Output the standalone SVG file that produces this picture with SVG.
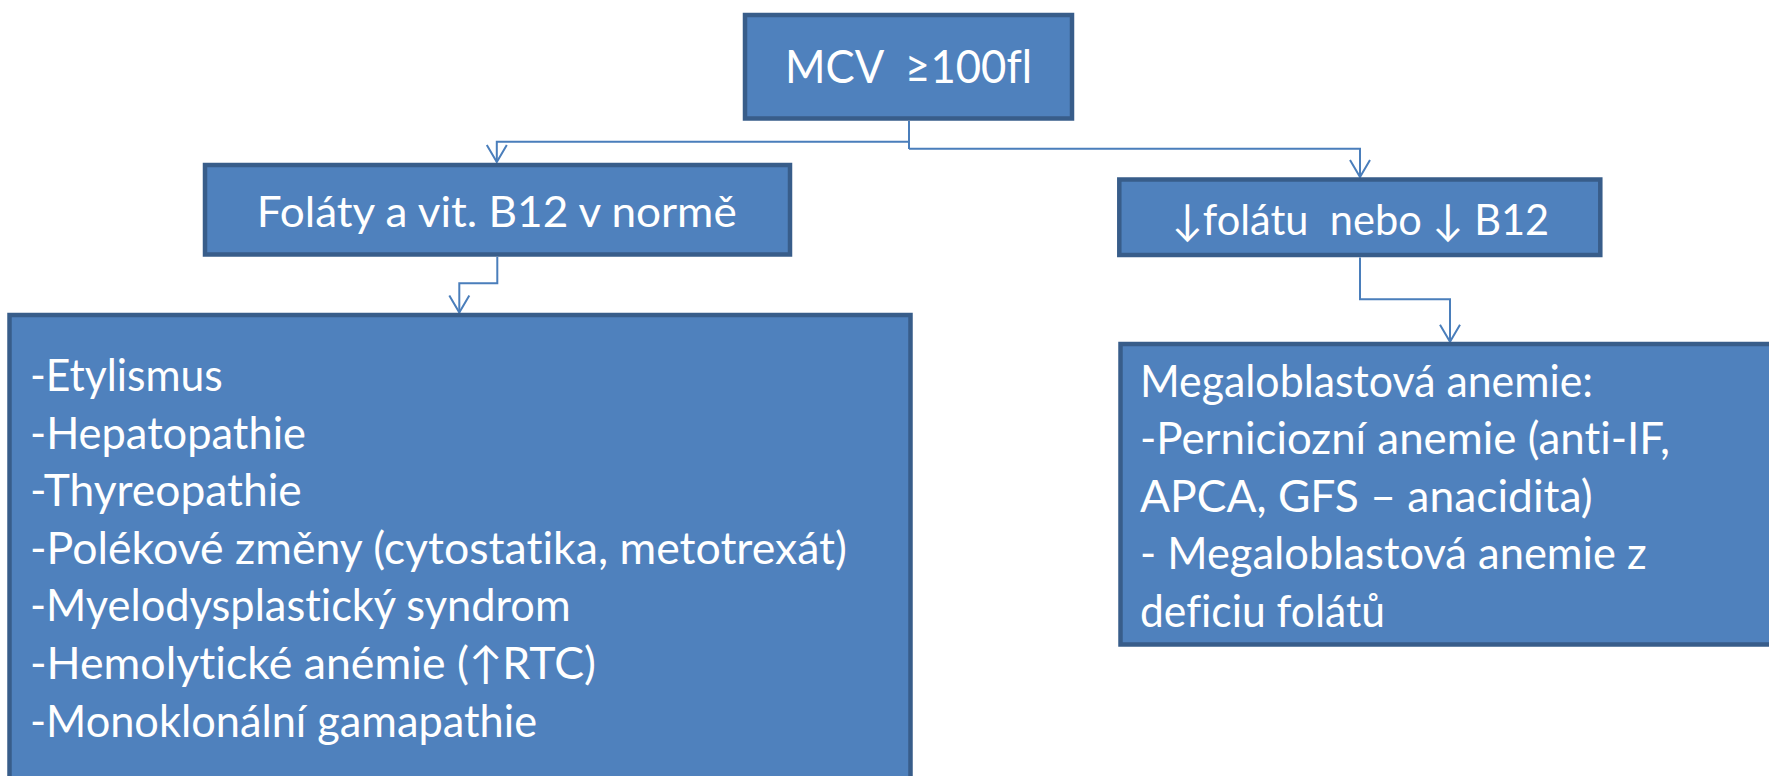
<svg xmlns="http://www.w3.org/2000/svg" width="1769" height="776" viewBox="0 0 1769 776">
  <style>
    .box { fill: #4F81BD; stroke: #385D8A; stroke-width: 4.5; }
    .lbl { fill: #FFFFFF; font-family: "Lato", "Open Sans", "DejaVu Sans", sans-serif; font-variant-ligatures: none; font-feature-settings: "liga" 0, "dlig" 0; }
    .edge { fill: none; stroke: #4A7EBB; stroke-width: 2; }
  </style>
  <defs>
    <marker id="vee" markerUnits="userSpaceOnUse" markerWidth="24" markerHeight="24" refX="18" refY="12" orient="auto" overflow="visible">
      <path d="M1,2 L18,12 L1,22" fill="none" stroke="#4A7EBB" stroke-width="2"/>
    </marker>
  </defs>

  <rect width="1769" height="776" fill="#FFFFFF"/>

  <!-- connectors -->
  <g id="connectors">
    <polyline class="edge" points="909,121 909,149"/>
    <polyline class="edge" points="909,141.7 496.8,141.7 496.8,162" marker-end="url(#vee)"/>
    <polyline class="edge" points="909,148.7 1360,148.7 1360,177" marker-end="url(#vee)"/>
    <polyline class="edge" points="497.3,257 497.3,283.3 459.3,283.3 459.3,312.5" marker-end="url(#vee)"/>
    <polyline class="edge" points="1360,257.5 1360,299.3 1450,299.3 1450,341.8" marker-end="url(#vee)"/>
  </g>

  <!-- top node -->
  <g id="mcv">
    <rect class="box" x="745" y="15" width="327" height="103.5"/>
    <text class="lbl" x="785" y="83" font-size="47" textLength="247" lengthAdjust="spacingAndGlyphs">MCV&#160; ≥100fl</text>
  </g>

  <!-- left branch -->
  <g id="normal">
    <rect class="box" x="205" y="165" width="585" height="89.5"/>
    <text class="lbl" x="256.7" y="227" font-size="43" textLength="480" lengthAdjust="spacingAndGlyphs">Foláty a vit. B12 v normě</text>
  </g>

  <!-- right branch -->
  <g id="deficit">
    <rect class="box" x="1119.3" y="179.5" width="481" height="75.5"/>
    <text class="lbl" x="1171.7" y="235.3" font-size="43" textLength="377.5" lengthAdjust="spacingAndGlyphs">↓folátu&#160; nebo ↓ B12</text>
  </g>

  <!-- causes list -->
  <g id="causes">
    <rect class="box" x="9.5" y="315" width="901" height="490"/>
    <g class="lbl" font-size="44">
      <text x="30" y="391" textLength="192.7" lengthAdjust="spacingAndGlyphs">-Etylismus</text>
      <text x="30" y="448.6" textLength="276" lengthAdjust="spacingAndGlyphs">-Hepatopathie</text>
      <text x="30" y="506.2" textLength="271.7" lengthAdjust="spacingAndGlyphs">-Thyreopathie</text>
      <text x="30" y="563.8" textLength="817" lengthAdjust="spacingAndGlyphs">-Polékové změny (cytostatika, metotrexát)</text>
      <text x="30" y="621.4" textLength="540.6" lengthAdjust="spacingAndGlyphs">-Myelodysplastický syndrom</text>
      <text x="30" y="679" textLength="566" lengthAdjust="spacingAndGlyphs">-Hemolytické anémie (↑RTC)</text>
      <text x="30" y="736.6" textLength="507" lengthAdjust="spacingAndGlyphs">-Monoklonální gamapathie</text>
    </g>
  </g>

  <!-- megaloblastic anaemia -->
  <g id="megaloblastic">
    <rect class="box" x="1120.5" y="344" width="700" height="300.5"/>
    <g class="lbl" font-size="44">
      <text x="1140" y="396.5" textLength="453" lengthAdjust="spacingAndGlyphs">Megaloblastová anemie:</text>
      <text x="1140" y="454" textLength="530" lengthAdjust="spacingAndGlyphs">-Perniciozní anemie (anti-IF,</text>
      <text x="1140" y="511.5" textLength="452.7" lengthAdjust="spacingAndGlyphs">APCA, GFS – anacidita)</text>
      <text x="1140" y="569" textLength="506.7" lengthAdjust="spacingAndGlyphs">- Megaloblastová anemie z</text>
      <text x="1140" y="626.5" textLength="245" lengthAdjust="spacingAndGlyphs">deficiu folátů</text>
    </g>
  </g>
</svg>
